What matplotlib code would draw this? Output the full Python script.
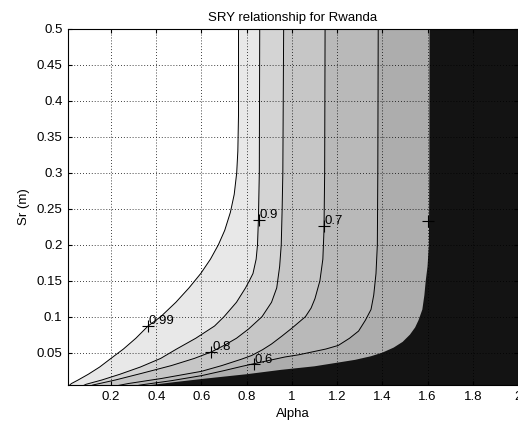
import numpy as np
import matplotlib
matplotlib.use("Agg")
import matplotlib.pyplot as plt

plt.rcParams["font.family"] = ["Liberation Sans", "DejaVu Sans"]

# ─────────────────────────────────────────────
# DATA  (contour curves, alpha vs Sr)
# ─────────────────────────────────────────────
levels = [0.99, 0.9, 0.8, 0.7, 0.6, 0.5]

alpha_099 = [0.764, 0.764, 0.761, 0.756, 0.745, 0.728, 0.703, 0.675, 0.640, 0.597, 0.545, 0.487, 0.420, 0.364,
             0.310, 0.255, 0.200, 0.150, 0.100, 0.055, 0.025, 0.000]
sr_099    = [0.520, 0.380, 0.330, 0.300, 0.270, 0.245, 0.220, 0.200, 0.180, 0.160, 0.140, 0.120, 0.100, 0.087,
             0.070, 0.055, 0.042, 0.030, 0.020, 0.012, 0.007, 0.000]

alpha_090 = [0.858, 0.856, 0.852, 0.848, 0.842, 0.828, 0.812, 0.795, 0.755, 0.700, 0.658, 0.575, 0.490, 0.420,
             0.330, 0.240, 0.160, 0.090, 0.050]
sr_090    = [0.520, 0.300, 0.235, 0.200, 0.180, 0.160, 0.150, 0.140, 0.120, 0.100, 0.087, 0.070, 0.055, 0.042,
             0.030, 0.020, 0.012, 0.006, 0.000]

alpha_080 = [0.964, 0.960, 0.957, 0.953, 0.946, 0.933, 0.910, 0.868, 0.809, 0.755, 0.700, 0.644, 0.569, 0.467,
             0.333, 0.220, 0.120, 0.080]
sr_080    = [0.520, 0.300, 0.250, 0.200, 0.170, 0.140, 0.120, 0.100, 0.083, 0.070, 0.060, 0.051, 0.042, 0.032,
             0.021, 0.012, 0.005, 0.000]

alpha_070 = [1.147, 1.145, 1.142, 1.137, 1.124, 1.102, 1.085, 1.060, 1.030, 1.000, 0.956, 0.910, 0.870, 0.822,
             0.778, 0.690, 0.600, 0.422, 0.276, 0.160]
sr_070    = [0.520, 0.300, 0.220, 0.180, 0.150, 0.125, 0.112, 0.100, 0.092, 0.084, 0.073, 0.062, 0.054, 0.046,
             0.041, 0.032, 0.024, 0.014, 0.007, 0.000]

alpha_060 = [1.382, 1.380, 1.378, 1.372, 1.362, 1.350, 1.325, 1.295, 1.255, 1.205, 1.150, 1.090, 1.030, 0.970,
             0.867, 0.780, 0.700, 0.600, 0.467, 0.330, 0.250]
sr_060    = [0.520, 0.300, 0.200, 0.160, 0.130, 0.110, 0.095, 0.080, 0.070, 0.060, 0.055, 0.051, 0.047, 0.044,
             0.037, 0.031, 0.025, 0.018, 0.011, 0.005, 0.000]

alpha_050 = [1.609, 1.608, 1.606, 1.600, 1.592, 1.586, 1.577, 1.560, 1.545, 1.522, 1.490, 1.450, 1.400, 1.350,
             1.280, 1.200, 1.100, 0.950, 0.800, 0.620, 0.480, 0.350, 0.280]
sr_050    = [0.520, 0.300, 0.200, 0.170, 0.150, 0.130, 0.110, 0.095, 0.085, 0.075, 0.065, 0.057, 0.050, 0.045,
             0.040, 0.036, 0.031, 0.026, 0.020, 0.014, 0.009, 0.004, 0.000]

curves_alpha = [alpha_099, alpha_090, alpha_080, alpha_070, alpha_060, alpha_050]
curves_sr    = [sr_099, sr_090, sr_080, sr_070, sr_060, sr_050]

# fill colour of the band just below each level (last one = below 0.5)
band_colors = ["#e8e8e8", "#d4d4d4", "#c6c6c6", "#b9b9b9", "#adadad", "#131313"]

# clabel positions: (alpha, Sr) of the "+" marker on each curve
label_alpha = [0.364, 0.853, 0.644, 1.142, 0.831, 1.604]
label_sr    = [0.087, 0.235, 0.051, 0.226, 0.034, 0.233]
label_text  = ["0.99", "0.9", "0.8", "0.7", "0.6", ""]

x_ticks = [0.2, 0.4, 0.6, 0.8, 1, 1.2, 1.4, 1.6, 1.8, 2]
y_ticks = [0.05, 0.1, 0.15, 0.2, 0.25, 0.3, 0.35, 0.4, 0.45, 0.5]

XMIN, XMAX = 0.01, 2.0
YMIN, YMAX = 0.005, 0.5
FS = 9.5

# ─────────────────────────────────────────────
# PLOT
# ─────────────────────────────────────────────
fig = plt.figure(figsize=(5.18, 4.23), dpi=100)
ax = fig.add_axes([68 / 518, 38 / 423, 450 / 518, 356 / 423])
ax.set_facecolor("white")

# filled bands: each polygon covers everything right/below its curve
for xs, ys, col in zip(curves_alpha, curves_sr, band_colors):
    px = list(xs) + [XMAX + 0.1, XMAX + 0.1]
    py = list(ys) + [0.0, 0.52]
    ax.fill(px, py, color=col, lw=0, zorder=1)

# contour lines
for xs, ys in zip(curves_alpha[:-1], curves_sr[:-1]):
    ax.plot(xs, ys, color="black", lw=0.7, zorder=3)

# contour labels
for x, y, t in zip(label_alpha, label_sr, label_text):
    ax.plot(x, y, marker="+", color="black", ms=8, mew=0.8, zorder=4)
    if t:
        ax.text(x + 0.003, y - 0.002, t, fontsize=FS, ha="left", va="bottom", zorder=4)

ax.set_xlim(XMIN, XMAX)
ax.set_ylim(YMIN, YMAX)
ax.set_xticks(x_ticks)
ax.set_xticklabels([f"{v:g}" for v in x_ticks])
ax.set_yticks(y_ticks)
ax.set_yticklabels([f"{v:g}" for v in y_ticks])
ax.tick_params(direction="in", length=3, labelsize=FS, top=True, right=True, pad=4)

ax.grid(True, linestyle=(0, (1, 2.5)), color="black", lw=0.6)
ax.set_axisbelow(False)
for gl in ax.get_xgridlines() + ax.get_ygridlines():
    gl.set_zorder(2)

ax.set_xlabel("Alpha", fontsize=FS, labelpad=4)
ax.set_ylabel("Sr (m)", fontsize=FS, labelpad=5)
ax.set_title("SRY relationship for Rwanda", fontsize=FS, pad=6)

plt.savefig("out.png", dpi=100)
plt.close()
